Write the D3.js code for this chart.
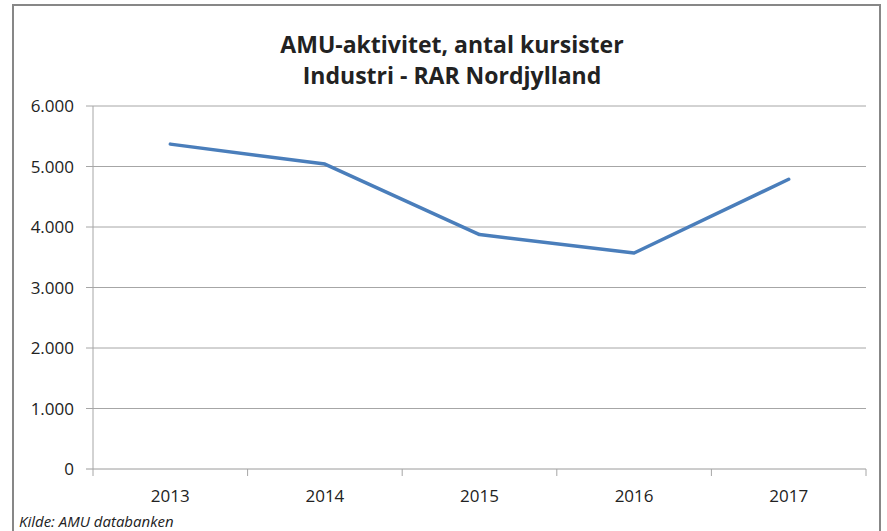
<html>
<head>
<style>
  body { margin: 0; background: #fff; }
  text { font-family: "Open Sans", sans-serif; fill: #222; }
</style>
<script src="https://d3js.org/d3.v7.min.js"></script>
</head>
<body>
<svg id="chart" width="887" height="531"></svg>
<script>
// data
const years = ['2013', '2014', '2015', '2016', '2017'];
const kursister = [5370, 5040, 3875, 3570, 4790];
const yTicks = [0, 1000, 2000, 3000, 4000, 5000, 6000];
const titleLines = ['AMU-aktivitet, antal kursister', 'Industri - RAR Nordjylland'];
const source = 'Kilde: AMU databanken';

const svg = d3.select('#chart');

// outer frame
svg.append('rect')
  .attr('x', 13).attr('y', 5)
  .attr('width', 867).attr('height', 540)
  .attr('fill', 'none')
  .attr('stroke', '#878787')
  .attr('stroke-width', 2);

const plotL = 93, plotR = 866, plotT = 106, plotB = 469;

const x = d3.scaleBand().domain(years).range([plotL, plotR]);
const y = d3.scaleLinear().domain([0, 6000]).range([plotB, plotT]);

// gridlines
svg.append('g')
  .selectAll('line')
  .data(yTicks)
  .join('line')
  .attr('x1', plotL - 7).attr('x2', plotR)
  .attr('y1', d => y(d)).attr('y2', d => y(d))
  .attr('stroke', d => d === 0 ? '#9a9a9a' : '#a6a6a6')
  .attr('stroke-width', 1);

// y axis line
svg.append('line')
  .attr('x1', plotL).attr('x2', plotL)
  .attr('y1', plotT).attr('y2', plotB)
  .attr('stroke', '#a6a6a6');

// y labels
const fmt = d => d === 0 ? '0' : d3.format(',')(d).replace(/,/g, '.');
svg.append('g')
  .selectAll('text')
  .data(yTicks)
  .join('text')
  .attr('x', plotL - 19)
  .attr('y', d => y(d))
  .attr('dy', '0.36em')
  .attr('text-anchor', 'end')
  .attr('font-size', 17)
  .text(fmt);

// x ticks at band edges
const edges = years.map(d => x(d)).concat([plotR]);
svg.append('g')
  .selectAll('line')
  .data(edges)
  .join('line')
  .attr('x1', d => d).attr('x2', d => d)
  .attr('y1', plotB).attr('y2', plotB + 7)
  .attr('stroke', '#a6a6a6');

// x labels
svg.append('g')
  .selectAll('text')
  .data(years)
  .join('text')
  .attr('x', d => x(d) + x.bandwidth() / 2)
  .attr('y', 502)
  .attr('text-anchor', 'middle')
  .attr('font-size', 17)
  .text(d => d);

// the line
const line = d3.line()
  .x((d, i) => x(years[i]) + x.bandwidth() / 2)
  .y(d => y(d));

svg.append('path')
  .datum(kursister)
  .attr('d', line)
  .attr('fill', 'none')
  .attr('stroke', '#4a7ebb')
  .attr('stroke-width', 3.5)
  .attr('stroke-linejoin', 'round')
  .attr('stroke-linecap', 'round');

// title
svg.append('g')
  .selectAll('text')
  .data(titleLines)
  .join('text')
  .attr('x', 452)
  .attr('y', (d, i) => 53 + i * 31)
  .attr('text-anchor', 'middle')
  .attr('font-size', 23)
  .attr('font-weight', 'bold')
  .text(d => d);

// source note
svg.append('text')
  .attr('x', 19).attr('y', 527)
  .attr('font-size', 15)
  .attr('font-style', 'italic')
  .text(source);
</script>
</body>
</html>
